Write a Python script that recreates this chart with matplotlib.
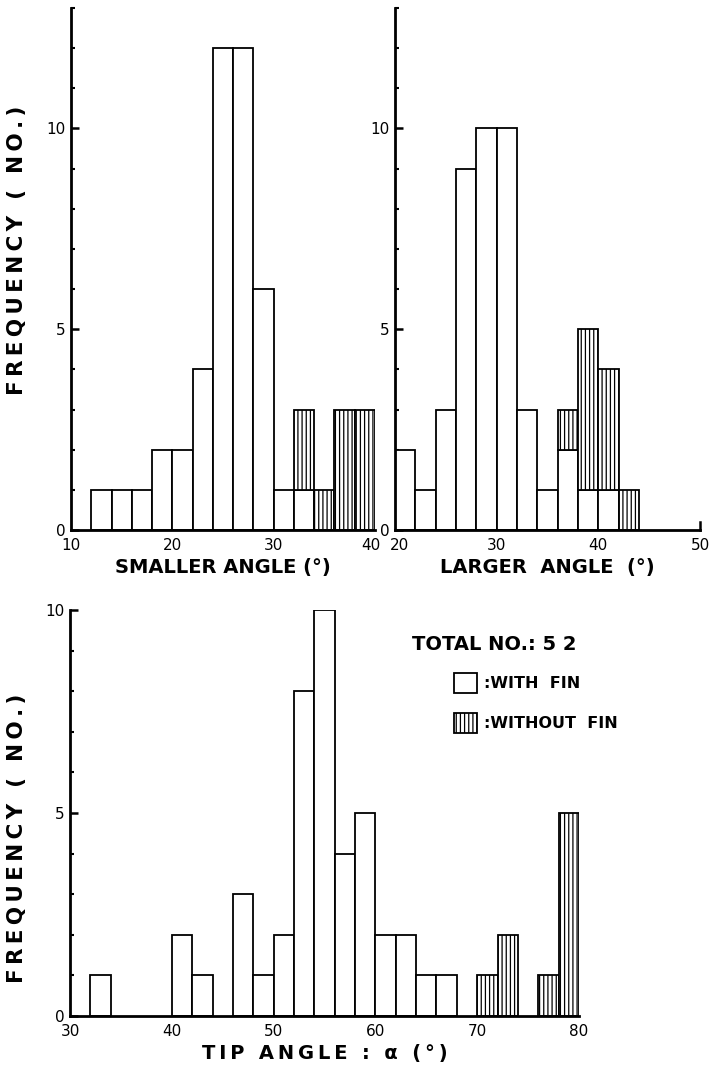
import matplotlib
matplotlib.use("Agg")
import matplotlib.pyplot as plt
from matplotlib.ticker import MultipleLocator, FixedLocator
from matplotlib.patches import Rectangle
from matplotlib.transforms import ScaledTranslation
import numpy as np

# ---- data -------------------------------------------------------------
bin_width = 2
small_start = 10
small_with = [0, 1, 1, 1, 2, 2, 4, 12, 12, 6, 1, 1, 0, 0, 0]
small_without = [0, 0, 0, 0, 0, 0, 0, 0, 0, 0, 0, 2, 1, 3, 3]

large_start = 20
large_with = [2, 1, 3, 9, 10, 10, 3, 1, 2, 1, 1, 0, 0, 0, 0]
large_without = [0, 0, 0, 0, 0, 0, 0, 0, 1, 4, 3, 1, 0, 0, 0]

tip_start = 30
tip_with = [0, 1, 0, 0, 0, 2, 1, 0, 3, 1, 2, 8, 10, 4, 5, 2, 2, 1, 1, 0,
            0, 0, 0, 0, 0]
tip_without = [0, 0, 0, 0, 0, 0, 0, 0, 0, 0, 0, 0, 0, 0, 0, 0, 0, 0, 0, 0,
               1, 2, 0, 1, 5]

small_xticks = [10, 20, 30, 40]
large_xticks = [20, 30, 40, 50]
tip_xticks = [30, 40, 50, 60, 70, 80]
yticks_major = [0, 5, 10]

total_label = "TOTAL NO.: 5 2"
with_label = ":WITH  FIN"
without_label = ":WITHOUT  FIN"

# ---- style ------------------------------------------------------------
plt.rcParams['hatch.linewidth'] = 0.9
plt.rcParams['font.family'] = ['DejaVu Sans']
LBL = dict(family='DejaVu Sans', weight='bold', fontsize=14)
TCK = 11
THIN = '\u2009'


def spaced(s):
    return THIN.join(list(s))


fig = plt.figure(figsize=(7.10, 10.73), dpi=100)


def hist(ax, start, with_vals, without_vals):
    n = len(with_vals)
    lefts = start + bin_width * np.arange(n)
    w = np.array(with_vals, dtype=float)
    wo = np.array(without_vals, dtype=float)
    m1 = w > 0
    ax.bar(lefts[m1], w[m1], width=bin_width, align='edge', facecolor='white',
           edgecolor='black', linewidth=1.3, zorder=2)
    m2 = wo > 0
    ax.bar(lefts[m2], wo[m2], bottom=w[m2], width=bin_width, align='edge',
           facecolor='white', edgecolor='black', linewidth=1.3, hatch='||||',
           zorder=2)


def style(ax, xlim, ylim, xticks):
    ax.set_xlim(*xlim)
    ax.set_ylim(*ylim)
    for s in ['top', 'right']:
        ax.spines[s].set_visible(False)
    for s in ['left', 'bottom']:
        ax.spines[s].set_linewidth(2.0)
    ax.xaxis.set_major_locator(FixedLocator(xticks))
    ax.yaxis.set_major_locator(FixedLocator(yticks_major))
    ax.yaxis.set_minor_locator(MultipleLocator(1))
    ax.tick_params(axis='both', which='major', direction='in', length=6,
                   width=1.8, labelsize=TCK)
    ax.tick_params(axis='y', which='major', pad=4)
    ax.tick_params(axis='y', which='minor', direction='in', length=3,
                   width=1.5)
    ax.tick_params(axis='x', which='major', length=0, pad=6)


def nudge(label, dx_pt):
    label.set_transform(label.get_transform() +
                        ScaledTranslation(dx_pt / 72, 0, fig.dpi_scale_trans))


# top-left
ax1 = fig.add_axes([71 / 710, 1 - 530 / 1073, 304 / 710, 522 / 1073])
hist(ax1, small_start, small_with, small_without)
style(ax1, (10, 40), (0, 13), small_xticks)
ax1.set_xlabel("SMALLER ANGLE (°)", labelpad=3, **LBL)

# top-right
ax2 = fig.add_axes([395 / 710, 1 - 530 / 1073, 305 / 710, 522 / 1073])
hist(ax2, large_start, large_with, large_without)
style(ax2, (20, 50), (0, 13), large_xticks)
ax2.set_xlabel("LARGER  ANGLE  (°)", labelpad=3, **LBL)
ax2.plot([50, 50], [0, 0.2], color='black', lw=1.8, clip_on=False)

# bottom
ax3 = fig.add_axes([70 / 710, 1 - 1016 / 1073, 509 / 710, 406 / 1073])
hist(ax3, tip_start, tip_with, tip_without)
style(ax3, (30, 80), (0, 10), tip_xticks)
ax3.set_xlabel(spaced("TIP ANGLE : α (°)"), labelpad=3, **LBL)

fig.canvas.draw()
nudge(ax1.get_xticklabels()[-1], -3)
nudge(ax2.get_xticklabels()[0], 3)

# y labels
ylab = spaced("FREQUENCY ( NO.)")
YL = dict(LBL, fontsize=15.5)
fig.text(17 / 710, 1 - 250 / 1073, ylab, rotation=90, ha='center',
         va='center', **YL)
fig.text(17 / 710, 1 - 838 / 1073, ylab, rotation=90, ha='center',
         va='center', **YL)

# legend
fig.text(412 / 710, 1 - 645 / 1073, total_label, ha='left', va='center',
         family='DejaVu Sans', weight='bold', fontsize=14)
fig.patches.append(Rectangle((454 / 710, 1 - 693 / 1073), 23 / 710, 20 / 1073,
                             transform=fig.transFigure, facecolor='white',
                             edgecolor='black', linewidth=1.3))
fig.patches.append(Rectangle((454 / 710, 1 - 733 / 1073), 23 / 710, 20 / 1073,
                             transform=fig.transFigure, facecolor='white',
                             edgecolor='black', linewidth=1.3, hatch='||||'))
fig.text(484 / 710, 1 - 684 / 1073, with_label, ha='left', va='center',
         family='DejaVu Sans', weight='bold', fontsize=11.5)
fig.text(484 / 710, 1 - 723 / 1073, without_label, ha='left', va='center',
         family='DejaVu Sans', weight='bold', fontsize=11.5)

fig.savefig("out.png", dpi=100, facecolor='white')
